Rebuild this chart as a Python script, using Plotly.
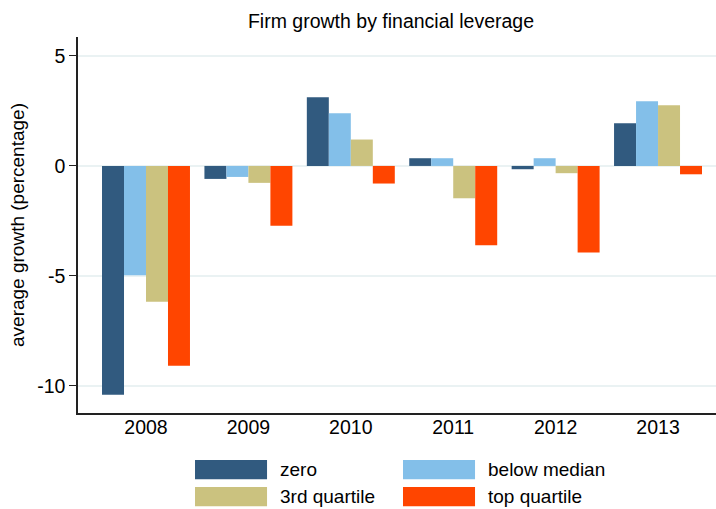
import plotly.graph_objects as go

# average firm growth (percent) by year and leverage group
years = ["2008", "2009", "2010", "2011", "2012", "2013"]
zero = [-10.4, -0.59, 3.12, 0.35, -0.15, 1.94]
below_median = [-4.97, -0.5, 2.39, 0.35, 0.35, 2.94]
third_quartile = [-6.17, -0.77, 1.2, -1.47, -0.33, 2.76]
top_quartile = [-9.08, -2.72, -0.8, -3.6, -3.94, -0.38]
ytick_vals = [-10, -5, 0, 5]
ytick_text = ["-10", "-5", "0", "5"]

series_names = ["zero", "below median", "3rd quartile", "top quartile"]
series_colors = ["#315a7f", "#83bfe9", "#cbc27f", "#ff4500"]
series_values = [zero, below_median, third_quartile, top_quartile]

font = "Liberation Sans, Arial, sans-serif"

fig = go.Figure()
for name, color, vals in zip(series_names, series_colors, series_values):
    fig.add_trace(go.Bar(x=years, y=vals, name=name, marker_color=color,
                         marker_line_width=0, showlegend=False))

# legend drawn by hand so the keys are wide boxes like the original
legend_pos = [(0.1834, -0.125), (0.5094, -0.125), (0.1834, -0.1968), (0.5094, -0.1968)]
for (x0, y0), name, color in zip(legend_pos, series_names, series_colors):
    fig.add_shape(type="rect", xref="paper", yref="paper",
                  x0=x0, x1=x0 + 0.1129, y0=y0, y1=y0 - 0.0515,
                  fillcolor=color, line_width=0)
    fig.add_annotation(xref="paper", yref="paper", x=x0 + 0.1301, y=y0 - 0.0257,
                       text=name, showarrow=False, xanchor="left", yanchor="middle",
                       font=dict(family=font, size=19, color="black"))

fig.update_layout(
    title=dict(text="Firm growth by financial leverage", x=0.4906, xref="paper",
               xanchor="center", y=0.958, yanchor="middle",
               font=dict(family=font, size=19.5, color="black")),
    barmode="group", bargap=0.141, bargroupgap=0,
    width=716, height=509,
    margin=dict(l=78, r=0, t=37, b=96),
    plot_bgcolor="white", paper_bgcolor="white",
    font=dict(family=font, color="black"),
)
fig.update_xaxes(type="category", range=[-0.664, 5.566], showline=True,
                 linecolor="#222", linewidth=1.5, ticks="", showgrid=False,
                 tickfont=dict(size=19.5), ticklabelstandoff=-4)
fig.update_yaxes(range=[-11.23, 5.86], tickvals=ytick_vals, ticktext=ytick_text,
                 showline=True, linecolor="#222", linewidth=1.5,
                 ticks="outside", ticklen=7, tickcolor="#222",
                 gridcolor="#eaf2f3", gridwidth=1.5, zeroline=False,
                 tickfont=dict(size=19.5),
                 title=dict(text="average growth (percentage)", font=dict(size=19), standoff=8))

# drop the browser's default body margin so the figure sits at the page corner
fig.write_html("out.html", config={"displayModeBar": False},
               post_script="document.body.style.margin='0';")
